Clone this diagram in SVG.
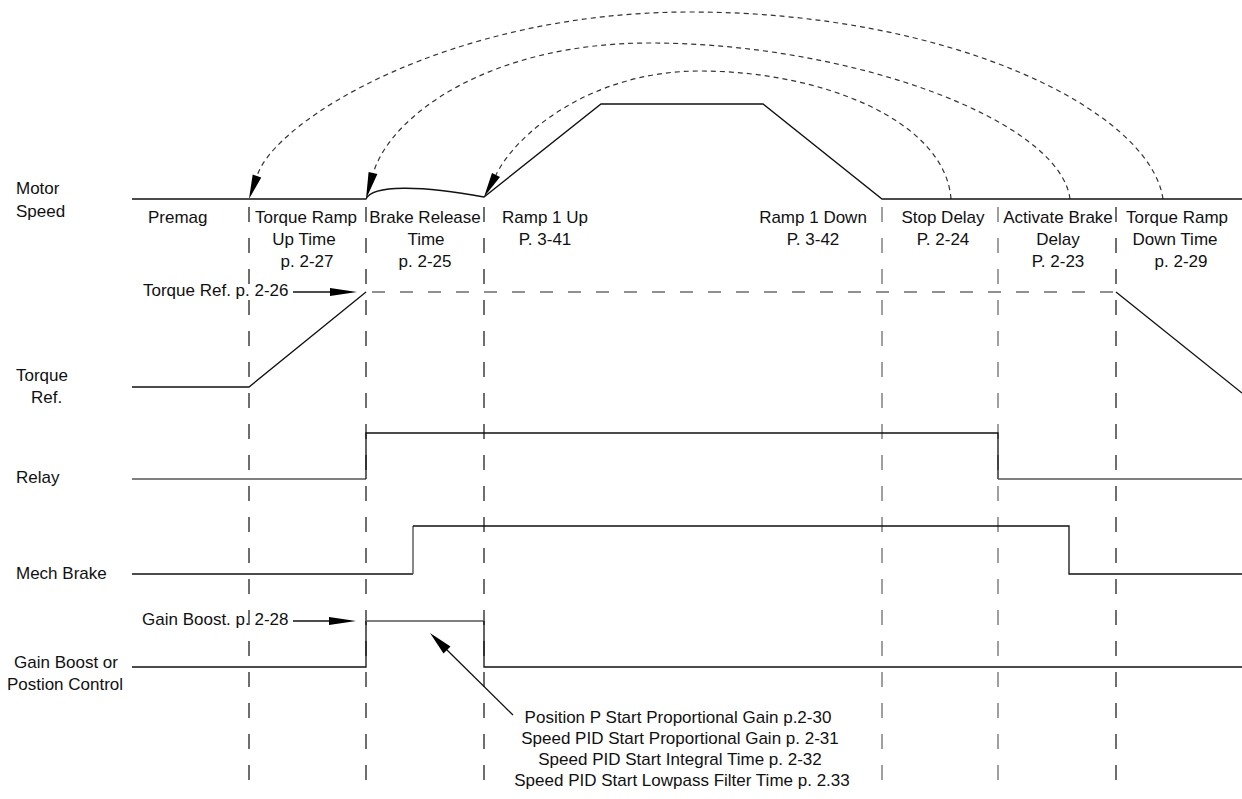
<svg xmlns="http://www.w3.org/2000/svg" width="1242" height="799" viewBox="0 0 1242 799">
<style>
text{font-family:"Liberation Sans",Arial,sans-serif;font-size:17px;fill:#111}
.c{text-anchor:middle}
.sig{fill:none;stroke:#111;stroke-width:1.3}
.sigg{fill:none;stroke:#555;stroke-width:1.4}
.vd{fill:none;stroke:#222;stroke-width:1.3;stroke-dasharray:15 16}
.vdg{fill:none;stroke:#888;stroke-width:1.6;stroke-dasharray:15 16}
.hd{fill:none;stroke:#222;stroke-width:1.2;stroke-dasharray:13 15}
.arc{fill:none;stroke:#333;stroke-width:1.2;stroke-dasharray:5 4}
.ah{fill:#000;stroke:none}
</style>

<g id="gridlines">
<line class="vd" x1="249" y1="207" x2="249" y2="790"/>
<line class="vd" x1="366" y1="207" x2="366" y2="790"/>
<line class="vd" x1="484" y1="207" x2="484" y2="790"/>
<line class="vdg" x1="882" y1="207" x2="882" y2="790"/>
<line class="vdg" x1="998" y1="207" x2="998" y2="790"/>
<line class="vd" x1="1116" y1="207" x2="1116" y2="790"/>
</g>

<g id="connectors">
<path class="arc" d="M1163,199 C1150,110 950,12 690,12 C450,12 275,120 257,176"/>
<path class="arc" d="M1070,199 C1060,120 850,43 650,43 C490,43 390,115 373,174"/>
<path class="arc" d="M951,199 C945,120 820,71 700,71 C590,71 515,135 496,175"/>
<polygon class="ah" points="249,199 261.3,177.5 252.7,174.5"/>
<polygon class="ah" points="366,199 377.4,174.1 368.6,171.9"/>
<polygon class="ah" points="484,197 500,177.1 492,172.9"/>
<line class="sig" x1="293" y1="292" x2="332" y2="292"/>
<polygon class="ah" points="357,292 330,288 330,296"/>
<line class="sig" x1="293" y1="621" x2="332" y2="621"/>
<polygon class="ah" points="356,621 329,617 329,625"/>
<line class="sig" stroke-width="1" x1="513" y1="715" x2="445" y2="648"/>
<polygon class="ah" points="430,633 443.5,653.5 450.5,646.5"/>
</g>

<g id="motor-speed">
<text x="16" y="194">Motor</text>
<text x="16" y="217">Speed</text>
<path class="sig" d="M132,199 H366 C372,185 420,185 484,197 L601,104 H763 L882,199 H1242"/>
</g>

<g id="phase-labels">
<text x="148" y="223">Premag</text>
<text class="c" x="306" y="223">Torque Ramp</text>
<text class="c" x="304" y="245">Up Time</text>
<text class="c" x="307" y="267">p. 2-27</text>
<text class="c" x="425" y="223">Brake Release</text>
<text class="c" x="426" y="245">Time</text>
<text class="c" x="425" y="267">p. 2-25</text>
<text class="c" x="545" y="223">Ramp 1 Up</text>
<text class="c" x="545" y="245">P. 3-41</text>
<text class="c" x="813" y="223">Ramp 1 Down</text>
<text class="c" x="813" y="245">P. 3-42</text>
<text class="c" x="943" y="223">Stop Delay</text>
<text class="c" x="943" y="245">P. 2-24</text>
<text class="c" x="1058" y="223">Activate Brake</text>
<text class="c" x="1058" y="245">Delay</text>
<text class="c" x="1058" y="267">P. 2-23</text>
<text class="c" x="1177" y="223">Torque Ramp</text>
<text class="c" x="1175" y="245">Down Time</text>
<text class="c" x="1181" y="267">p. 2-29</text>
</g>

<g id="torque-ref">
<text x="16" y="381">Torque</text>
<text x="31" y="403">Ref.</text>
<text x="143" y="296">Torque Ref. p. 2-26</text>
<path class="sig" d="M132,387 H249 L366,292"/>
<line class="hd" x1="372" y1="292" x2="1116" y2="292"/>
<line class="sig" x1="1116" y1="292" x2="1242" y2="393"/>
</g>

<g id="relay">
<text x="16" y="483">Relay</text>
<path class="sigg" d="M132,479 H366"/>
<path class="sig" d="M366,479 V433 H998 V479"/>
<path class="sigg" d="M998,479 H1242"/>
</g>

<g id="mech-brake">
<text x="16" y="579">Mech Brake</text>
<path class="sig" d="M132,574 H413"/>
<path class="sigg" d="M413,574 V526"/>
<path class="sig" d="M413,526 H1069 V574 H1242"/>
</g>

<g id="gain-boost">
<text class="c" x="66" y="668">Gain Boost or</text>
<text class="c" x="65" y="690">Postion Control</text>
<text x="142" y="625">Gain Boost. p. 2-28</text>
<path class="sig" d="M132,667 H366 V621"/>
<path class="sigg" d="M366,621 H484"/>
<path class="sig" d="M484,621 V667 H1242"/>
</g>

<g id="note">
<text class="c" x="678" y="723">Position P Start Proportional Gain p.2-30</text>
<text class="c" x="680" y="744">Speed PID Start Proportional Gain p. 2-31</text>
<text class="c" x="680" y="765">Speed PID Start Integral Time p. 2-32</text>
<text class="c" x="682" y="786">Speed PID Start Lowpass Filter Time p. 2.33</text>
</g>
</svg>
